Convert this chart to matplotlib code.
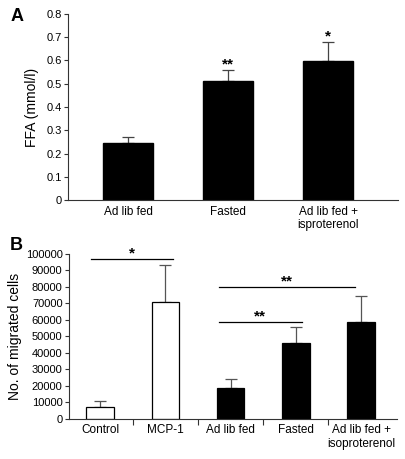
import matplotlib.pyplot as plt
import numpy as np

plt.rcParams["font.family"] = ["Liberation Sans", "DejaVu Sans"]

# panel A
a_labels = ["Ad lib fed", "Fasted", "Ad lib fed +\nisproterenol"]
a_values = [0.245, 0.51, 0.598]
a_errors = [0.027, 0.048, 0.080]
a_stars = ["", "**", "*"]
a_yticks = [0, 0.1, 0.2, 0.3, 0.4, 0.5, 0.6, 0.7, 0.8]

# panel B
b_labels = ["Control", "MCP-1", "Ad lib fed", "Fasted", "Ad lib fed +\nisoproterenol"]
b_values = [7000, 70500, 18800, 46000, 58500]
b_errors = [3500, 22500, 5200, 9500, 16000]
b_colors = ["white", "white", "black", "black", "black"]
b_yticks = [0, 10000, 20000, 30000, 40000, 50000, 60000, 70000, 80000, 90000, 100000]
# significance brackets: (x start, x end, height, label)
b_sig = [(-0.14, 1.12, 97000, "*"), (1.82, 3.91, 80000, "**"), (1.82, 3.09, 58500, "**")]

fig = plt.figure(figsize=(4.05, 4.59), dpi=100)

ax_a = fig.add_axes([0.168, 0.564, 0.815, 0.406])
ax_b = fig.add_axes([0.170, 0.088, 0.810, 0.359])

for ax in (ax_a, ax_b):
    for side in ("top", "right"):
        ax.spines[side].set_visible(False)
    for side in ("left", "bottom"):
        ax.spines[side].set_color("#333333")
        ax.spines[side].set_linewidth(0.8)
    ax.tick_params(axis="y", labelsize=8, length=3, width=0.8, color="#333333", pad=1.5)

x = np.arange(len(a_labels))
ax_a.bar(x, a_values, width=0.5, color="black", edgecolor="black", zorder=2)
ax_a.errorbar(x, a_values, yerr=[np.zeros(len(x)), a_errors], fmt="none",
              ecolor="#444444", elinewidth=0.9, capsize=4, capthick=0.9, zorder=1)
for xi, v, e, s in zip(x, a_values, a_errors, a_stars):
    if s:
        ax_a.text(xi, v + e - 0.005, s, ha="center", va="bottom", fontsize=11, fontweight="bold")
ax_a.set_xlim(-0.6, 2.7)
ax_a.set_ylim(0, 0.8)
ax_a.set_yticks(a_yticks)
ax_a.set_yticklabels([f"{t:g}" for t in a_yticks])
ax_a.set_xticks(x)
ax_a.set_xticklabels(a_labels, fontsize=8.5)
ax_a.tick_params(axis="x", length=0, pad=4)
ax_a.set_ylabel("FFA (mmol/l)", fontsize=10, labelpad=5)

xb = np.arange(len(b_labels))
ax_b.bar(xb, b_values, width=0.42, color=b_colors, edgecolor="black", linewidth=0.9, zorder=2)
ax_b.errorbar(xb, b_values, yerr=[np.zeros(len(xb)), b_errors], fmt="none",
              ecolor="#555555", elinewidth=0.9, capsize=4, capthick=0.9, zorder=1)
for x0, x1, h, s in b_sig:
    ax_b.plot([x0, x1], [h, h], color="black", lw=0.9)
    ax_b.text((x0 + x1) / 2, h - 1000, s, ha="center", va="bottom", fontsize=11, fontweight="bold")
ax_b.set_xlim(-0.48, 4.55)
ax_b.set_ylim(0, 100000)
ax_b.set_yticks(b_yticks)
ax_b.set_xticks(xb)
ax_b.set_xticklabels(b_labels, fontsize=8.5)
ax_b.set_xticks(xb[:-1] + 0.5, minor=True)
ax_b.tick_params(axis="x", which="major", length=0, pad=4)
ax_b.tick_params(axis="x", which="minor", length=4, width=0.8, color="#333333")
ax_b.set_ylabel("No. of migrated cells", fontsize=10, labelpad=3)

fig.text(0.025, 0.965, "A", fontsize=13, fontweight="bold", va="center")
fig.text(0.025, 0.465, "B", fontsize=13, fontweight="bold", va="center")

fig.savefig("out.png", dpi=100)
